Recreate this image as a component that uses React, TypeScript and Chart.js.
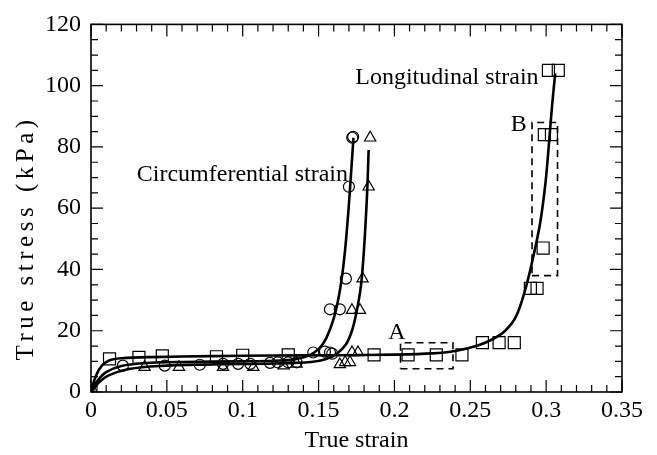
import { useEffect, useRef } from 'react';
import { Chart, registerables } from 'chart.js';

Chart.register(...registerables);

const FONT = "'Liberation Serif', 'Times New Roman', serif";
const FONT_SIZE = 24;

// Circumferential strain, specimen 1 (circles)
const circleX = [0, 0.021, 0.0486, 0.0717, 0.087, 0.097, 0.105, 0.118, 0.123, 0.13, 0.1355, 0.1465, 0.1542, 0.1575, 0.159, 0.1575, 0.164, 0.168, 0.17, 0.1722, 0.1728];
const circleY = [0, 8.6, 8.6, 8.9, 9.2, 9.2, 9.2, 9.5, 9.7, 9.7, 9.7, 12.9, 13.2, 12.9, 12.5, 27, 27, 37, 67, 83, 83.3];

// Circumferential strain, specimen 2 (triangles)
const triX = [0, 0.0353, 0.058, 0.087, 0.107, 0.127, 0.1355, 0.164, 0.1675, 0.1707, 0.172, 0.176, 0.172, 0.1773, 0.179, 0.183, 0.184];
const triY = [0, 8.1, 8.1, 8.1, 8.1, 8.6, 9.2, 9.0, 9.7, 9.7, 12.9, 12.9, 26.7, 26.7, 37, 67, 83];

// Longitudinal strain (squares)
const squareX = [0, 0.0122, 0.0316, 0.047, 0.0827, 0.1, 0.13, 0.1866, 0.209, 0.2276, 0.2445, 0.258, 0.269, 0.279, 0.2896, 0.294, 0.298, 0.2988, 0.3035, 0.3015, 0.308];
const squareY = [0, 10.8, 11.3, 11.8, 11.5, 12.0, 12.1, 12.1, 12.1, 12.1, 12.1, 16.1, 16.1, 16.1, 33.8, 33.8, 47, 84, 84, 105, 105];

// Fitted curves
const fitCircX = [0, 0.004, 0.01, 0.02, 0.035, 0.06, 0.1, 0.125, 0.135, 0.143, 0.15, 0.155, 0.16, 0.164, 0.167, 0.1695, 0.1715, 0.173];
const fitCircY = [0, 3.5, 6.5, 8.5, 9.4, 9.8, 10.0, 10.3, 10.8, 11.8, 14, 17.5, 24, 33, 44, 58, 72, 83];

const fitTriX = [0, 0.005, 0.012, 0.025, 0.045, 0.08, 0.12, 0.145, 0.155, 0.162, 0.168, 0.172, 0.175, 0.178, 0.18, 0.182, 0.183];
const fitTriY = [0, 3, 5.5, 7.5, 8.5, 9.0, 9.3, 9.8, 10.8, 12.5, 15.5, 20, 26, 35, 47, 65, 79];

const fitLongX = [0, 0.003, 0.007, 0.012, 0.02, 0.04, 0.08, 0.12, 0.16, 0.2, 0.225, 0.24, 0.255, 0.265, 0.273, 0.28, 0.286, 0.291, 0.296, 0.2995, 0.302, 0.304, 0.306];
const fitLongY = [0, 5, 8.5, 10.3, 11.0, 11.4, 11.7, 11.9, 12.0, 12.2, 12.6, 13.4, 15.2, 17.3, 20.0, 24.5, 33, 43, 55, 68, 82, 94, 104];

// Dashed boxes A and B
const boxAX = [0.204, 0.2386, 0.2386, 0.204, 0.204];
const boxAY = [7.6, 7.6, 16.1, 16.1, 7.6];
const boxBX = [0.2907, 0.3075, 0.3075, 0.2907, 0.2907];
const boxBY = [38, 38, 88, 88, 38];

// Axis ticks
const xTickLabels = ['0', '0.05', '0.1', '0.15', '0.2', '0.25', '0.3', '0.35'];
const yTickLabels = ['0', '20', '40', '60', '80', '100', '120'];

// Text annotations (data coordinates)
const noteTexts = ['Circumferential strain', 'Longitudinal strain', 'A', 'B'];
const noteX = [0.1694, 0.295, 0.2016, 0.2819];
const noteY = [71, 102.5, 19.2, 87.4];
const noteAlign = ['right', 'right', 'center', 'center'];

const xTitle = 'True strain';
const yTitle = 'True stress (kPa)';

const zip = (xs: number[], ys: number[]) => xs.map((x, i) => ({ x, y: ys[i] }));

const framePlugin = {
  id: 'frameTicks',
  afterDatasetsDraw(chart: any) {
    const { ctx, chartArea: a, scales } = chart;
    const xs = scales.x;
    const ys = scales.y;
    ctx.save();
    ctx.strokeStyle = '#000';
    ctx.lineWidth = 1.6;
    ctx.strokeRect(a.left, a.top, a.right - a.left, a.bottom - a.top);
    ctx.lineWidth = 1.2;
    ctx.beginPath();
    for (let i = 0; i <= 35; i++) {
      const px = xs.getPixelForValue(i * 0.01);
      const len = i % 5 === 0 ? 12 : 7;
      ctx.moveTo(px, a.bottom);
      ctx.lineTo(px, a.bottom - len);
      ctx.moveTo(px, a.top);
      ctx.lineTo(px, a.top + len);
    }
    for (let i = 0; i <= 24; i++) {
      const py = ys.getPixelForValue(i * 5);
      const len = i % 4 === 0 ? 12 : 7;
      ctx.moveTo(a.left, py);
      ctx.lineTo(a.left + len, py);
      ctx.moveTo(a.right, py);
      ctx.lineTo(a.right - len, py);
    }
    ctx.stroke();

    ctx.fillStyle = '#000';
    ctx.font = `${FONT_SIZE}px ${FONT}`;
    ctx.textBaseline = 'middle';
    noteTexts.forEach((t, i) => {
      ctx.textAlign = noteAlign[i] as CanvasTextAlign;
      ctx.fillText(t, xs.getPixelForValue(noteX[i]), ys.getPixelForValue(noteY[i]));
    });

    // axis titles
    ctx.textAlign = 'center';
    ctx.fillText(xTitle, (a.left + a.right) / 2, 441);
    ctx.translate(26, (a.top + a.bottom) / 2 + 32);
    ctx.rotate(-Math.PI / 2);
    ctx.font = `25px ${FONT}`;
    (ctx as any).letterSpacing = '4.5px';
    ctx.fillText(yTitle, 2.25, 0);
    ctx.restore();
  },
};

export default function App() {
  const ref = useRef<HTMLCanvasElement>(null);
  useEffect(() => {
    if (!ref.current) return;
    const markerBase = {
      showLine: false,
      borderColor: '#000',
      backgroundColor: 'rgba(0,0,0,0)',
      pointBorderWidth: 1.2,
      pointBorderColor: '#000',
      pointBackgroundColor: 'rgba(0,0,0,0)',
    };
    const lineBase = {
      showLine: true,
      borderColor: '#000',
      pointRadius: 0,
      fill: false,
    };
    const chart = new Chart(ref.current, {
      type: 'scatter',
      data: {
        datasets: [
          { ...lineBase, label: 'fit circ 1', data: zip(fitCircX, fitCircY), borderWidth: 2.6, tension: 0.35 },
          { ...lineBase, label: 'fit circ 2', data: zip(fitTriX, fitTriY), borderWidth: 2.6, tension: 0.35 },
          { ...lineBase, label: 'fit long', data: zip(fitLongX, fitLongY), borderWidth: 2.6, tension: 0.35 },
          { ...lineBase, label: 'box A', data: zip(boxAX, boxAY), borderWidth: 1.6, borderDash: [7, 5], tension: 0 },
          { ...lineBase, label: 'box B', data: zip(boxBX, boxBY), borderWidth: 1.6, borderDash: [7, 5], tension: 0 },
          { ...markerBase, label: 'circles', data: zip(circleX, circleY), pointStyle: 'circle', pointRadius: 5.5 },
          { ...markerBase, label: 'triangles', data: zip(triX, triY), pointStyle: 'triangle', pointRadius: 6.5 },
          { ...markerBase, label: 'squares', data: zip(squareX, squareY), pointStyle: 'rect', pointRadius: 8.5 },
        ],
      },
      options: {
        animation: false,
        responsive: false,
        devicePixelRatio: 1,
        layout: { padding: { top: 16, right: 35, left: 0, bottom: 0 } },
        plugins: { legend: { display: false }, tooltip: { enabled: false } },
        scales: {
          x: {
            type: 'linear',
            min: 0,
            max: 0.35,
            grid: { display: false, drawTicks: false },
            border: { display: false },
            ticks: {
              stepSize: 0.05,
              padding: 4,
              color: '#000',
              font: { family: FONT, size: FONT_SIZE },
              maxRotation: 0,
              autoSkip: false,
              callback: (_v: any, i: number) => xTickLabels[i] ?? '',
            },
            afterFit: (s: any) => { s.height = 63; },
          },
          y: {
            type: 'linear',
            min: 0,
            max: 120,
            grid: { display: false, drawTicks: false },
            border: { display: false },
            ticks: {
              stepSize: 20,
              padding: 10,
              color: '#000',
              font: { family: FONT, size: FONT_SIZE },
              autoSkip: false,
              callback: (_v: any, i: number) => yTickLabels[i] ?? '',
            },
            afterFit: (s: any) => { s.width = 91; },
          },
        },
      } as any,
      plugins: [framePlugin],
    });
    return () => chart.destroy();
  }, []);
  return (
    <div style={{ position: 'fixed', left: 0, top: 0, width: 657, height: 455, background: '#fff' }}>
      <canvas ref={ref} width={657} height={455} style={{ width: 657, height: 455, display: 'block' }} />
    </div>
  );
}
